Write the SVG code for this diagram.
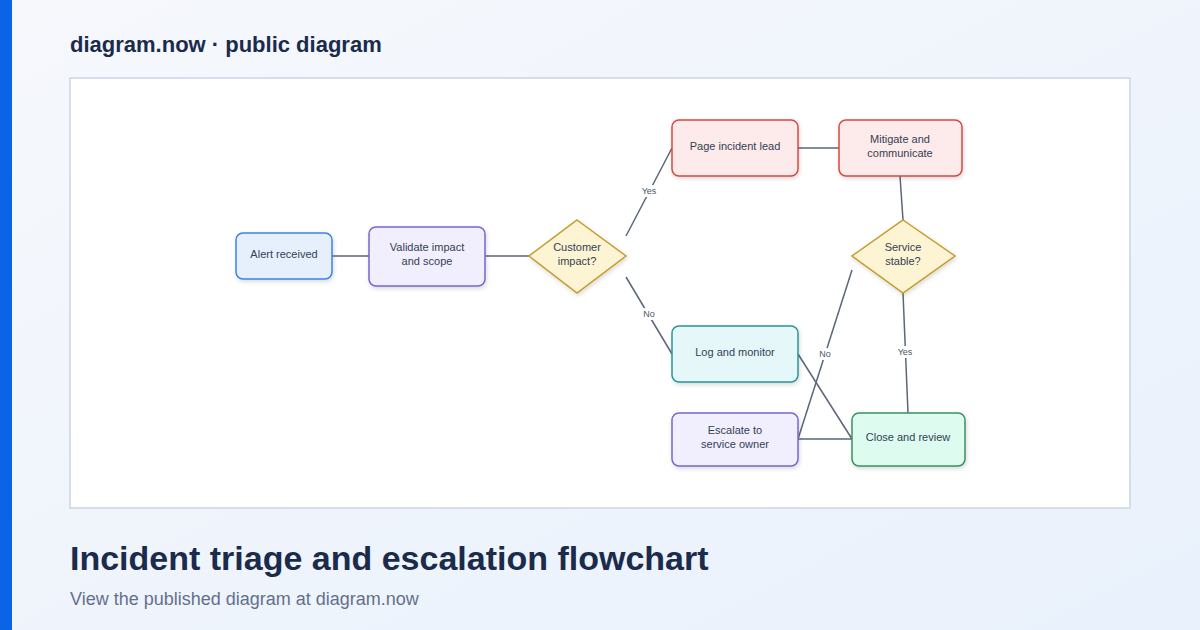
<svg xmlns="http://www.w3.org/2000/svg" width="1200" height="630" viewBox="0 0 1200 630">
<defs>
<linearGradient id="bg" x1="0" y1="0" x2="1" y2="1"><stop offset="0" stop-color="#f6f8fc"/><stop offset="1" stop-color="#e9f1fc"/></linearGradient>
<filter id="sh" x="-20%" y="-20%" width="140%" height="150%"><feDropShadow dx="1" dy="2" stdDeviation="2" flood-color="#000" flood-opacity="0.15"/></filter>
</defs>
<style>
text{font-family:"Liberation Sans",Arial,sans-serif;fill:#334155}
.n{font-size:11px;text-anchor:middle}
.l{font-size:9px;text-anchor:middle;fill:#475569}
.c line,.c path{stroke:#5b6678;stroke-width:1.5;fill:none}
.lb{fill:#fff}
</style>
<rect width="1200" height="630" fill="url(#bg)"/>
<rect width="12" height="630" fill="#0b63e5"/>
<text x="70" y="52" style="font-size:22px;font-weight:bold;fill:#1b2b4b">diagram.now · public diagram</text>
<rect x="70" y="78" width="1060" height="430" fill="#fff" stroke="#cbd5e6" stroke-width="1.5"/>
<g class="c">
<line x1="332" y1="256" x2="369" y2="256"/>
<line x1="485" y1="256" x2="529" y2="256"/>
<line x1="626" y1="236" x2="672" y2="148"/>
<line x1="626" y1="277" x2="672" y2="354"/>
<line x1="798" y1="148" x2="839" y2="148"/>
<line x1="900" y1="176" x2="903" y2="220"/>
<line x1="903" y1="293" x2="908" y2="413"/>
<line x1="852" y1="270" x2="798" y2="439"/>
<line x1="798" y1="354" x2="852" y2="439"/>
<line x1="798" y1="439" x2="852" y2="439"/>
<rect class="lb" x="640" y="185" width="18" height="12" style="stroke:none"/>
<rect class="lb" x="641" y="308" width="16" height="12" style="stroke:none"/>
<rect class="lb" x="817" y="348" width="16" height="12" style="stroke:none"/>
<rect class="lb" x="896" y="346" width="18" height="12" style="stroke:none"/>
</g>
<text class="l" x="649" y="194">Yes</text>
<text class="l" x="649" y="317">No</text>
<text class="l" x="825" y="357">No</text>
<text class="l" x="905" y="355">Yes</text>
<g id="alert"><rect x="236" y="233" width="96" height="46" rx="7" fill="#e6f0fd" stroke="#3b82e6" stroke-width="1.5" filter="url(#sh)"/><text class="n" x="284" y="258">Alert received</text></g>
<g id="validate"><rect x="369" y="227" width="116" height="59" rx="7" fill="#f1eefd" stroke="#7c63cf" stroke-width="1.5" filter="url(#sh)"/><text class="n" x="427" y="251">Validate impact</text><text class="n" x="427" y="265">and scope</text></g>
<g id="customer"><polygon points="577,220 626,256 577,293 529,256" fill="#fdf4d3" stroke="#c39b2a" stroke-width="1.5" filter="url(#sh)"/><text class="n" x="577" y="251">Customer</text><text class="n" x="577" y="265">impact?</text></g>
<g id="page"><rect x="672" y="120" width="126" height="56" rx="7" fill="#fdeaea" stroke="#d9473f" stroke-width="1.5" filter="url(#sh)"/><text class="n" x="735" y="150">Page incident lead</text></g>
<g id="mitigate"><rect x="839" y="120" width="123" height="56" rx="7" fill="#fdeaea" stroke="#d9473f" stroke-width="1.5" filter="url(#sh)"/><text class="n" x="900" y="143">Mitigate and</text><text class="n" x="900" y="157">communicate</text></g>
<g id="stable"><polygon points="903,220 955,256 903,293 852,256" fill="#fdf4d3" stroke="#c39b2a" stroke-width="1.5" filter="url(#sh)"/><text class="n" x="903" y="251">Service</text><text class="n" x="903" y="265">stable?</text></g>
<g id="log"><rect x="672" y="326" width="126" height="56" rx="7" fill="#e6f7fa" stroke="#2b9598" stroke-width="1.5" filter="url(#sh)"/><text class="n" x="735" y="356">Log and monitor</text></g>
<g id="escalate"><rect x="672" y="413" width="126" height="53" rx="7" fill="#f1eefd" stroke="#7c63cf" stroke-width="1.5" filter="url(#sh)"/><text class="n" x="735" y="434">Escalate to</text><text class="n" x="735" y="448">service owner</text></g>
<g id="close"><rect x="852" y="413" width="113" height="53" rx="7" fill="#ddfbee" stroke="#3a9064" stroke-width="1.5" filter="url(#sh)"/><text class="n" x="908" y="441">Close and review</text></g>
<text x="70" y="570" style="font-size:34px;font-weight:bold;fill:#1b2b4b">Incident triage and escalation flowchart</text>
<text x="70" y="605" style="font-size:18px;fill:#64708a">View the published diagram at diagram.now</text>
</svg>
